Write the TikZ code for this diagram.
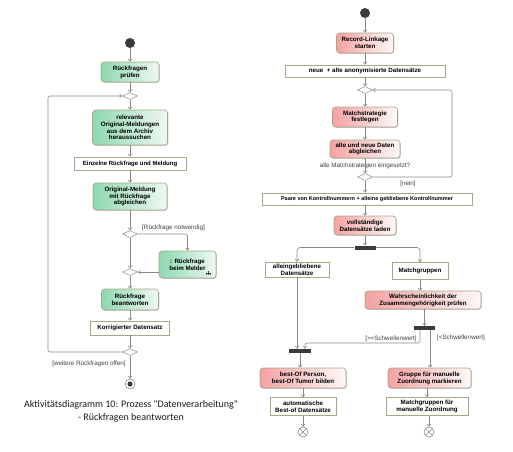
\documentclass[tikz,border=0pt]{standalone}
\usepackage{fontspec}
\setmainfont{Liberation Sans}
\newfontfamily\capfont{Carlito}
\usetikzlibrary{arrows.meta,shapes.geometric,shadows}
\definecolor{edgec}{HTML}{8A8A8A}
\definecolor{bordc}{HTML}{ABA688}
\definecolor{greenl}{HTML}{8ED8B0}
\definecolor{greenr}{HTML}{EEF9F3}
\definecolor{pinkl}{HTML}{F4A2A2}
\definecolor{pinkr}{HTML}{FFF8F8}
\definecolor{darkc}{HTML}{3A3A3A}
\begin{document}
\begin{tikzpicture}[x=1pt,y=-1pt,
 every node/.style={inner sep=0pt},
 shad/.style={drop shadow={shadow xshift=0.8pt,shadow yshift=-0.8pt,opacity=0.35,fill=black!60}},
 txt/.style={font=\fontsize{6.2}{6.8}\selectfont\bfseries, align=center},
 actg/.style={txt, shad, draw=bordc, line width=0.6pt, rounded corners=3pt, left color=greenl, right color=greenr},
 actp/.style={txt, shad, draw=bordc, line width=0.6pt, rounded corners=3pt, left color=pinkl, right color=pinkr},
 objb/.style={txt, shad, draw=bordc, fill=white, line width=0.6pt},
 dia/.style={diamond, draw=edgec, fill=white, minimum width=15pt, minimum height=7pt, line width=0.5pt},
 forkbar/.style={fill=darkc, minimum width=21pt, minimum height=4pt},
 initn/.style={circle, fill=darkc, minimum size=10pt},
 finaln/.style={circle, draw=edgec, fill=white, line width=0.6pt, minimum size=10pt, path picture={\fill[darkc] (path picture bounding box.center) circle (2.6pt);}},
 flowfin/.style={circle, draw=edgec, fill=white, line width=0.6pt, minimum size=10pt, path picture={\draw[edgec, line width=0.6pt] (path picture bounding box.south west) -- (path picture bounding box.north east) (path picture bounding box.north west) -- (path picture bounding box.south east);}},
 flow/.style={draw=edgec, line width=0.6pt, -{Straight Barb[length=2.2pt,width=3.6pt]}},
 guard/.style={text=black!75, font=\fontsize{6.3}{7}\selectfont}
]
\useasboundingbox (0,0) rectangle (513,451);

% ---------------- left diagram ----------------
\node[initn] (i1) at (130,43) {};
\node[actg, minimum width=58pt, minimum height=20pt] (a1) at (130,72) {Rückfragen\\prüfen};
\node[dia] (m1) at (130,96) {};
\node[actg, minimum width=75pt, minimum height=35pt] (a2) at (130,127.5) {relevante\\Original-Meldungen\\aus dem Archiv\\heraussuchen};
\node[objb, minimum width=112pt, minimum height=13pt, font=\fontsize{6}{6.8}\selectfont\bfseries] (o1) at (130,163.5) {Einzelne Rückfrage und Meldung};
\node[actg, minimum width=74pt, minimum height=27pt] (a3) at (130,196.5) {Original-Meldung\\mit Rückfrage\\abgleichen};
\node[dia] (d1) at (130,234) {};
\node[actg, minimum width=57pt, minimum height=27pt] (a4) at (187.5,264.5) {: Rückfrage\\beim Melder};
\begin{scope}[shift={(a4.south east)}, edgec!50!black, line width=0.5pt]
 \draw (-8,-7.5) -- (-8,-5.3);
 \draw (-10.3,-3) -- (-10.3,-5.3) -- (-5.7,-5.3) -- (-5.7,-3);
 \draw (-8,-5.3) -- (-8,-3);
\end{scope}
\node[dia] (m2) at (130,272) {};
\node[actg, minimum width=57pt, minimum height=21pt] (a5) at (130,299.5) {Rückfrage\\beantworten};
\node[objb, minimum width=79pt, minimum height=14pt] (o2) at (130,328) {Korrigierter Datensatz};
\node[dia] (d2) at (130,352) {};
\node[finaln] (f1) at (130,384) {};
\coordinate (lx) at (48,220);

\node[guard, anchor=west] (g1) at (142,228) {[Rückfrage notwendig]};
\node[guard] (g2) at (89,364) {[weitere Rückfragen offen]};

\draw[flow] (i1) -- (a1);
\draw[flow] (a1) -- (m1);
\draw[flow] (m1) -- (a2);
\draw[flow] (a2) -- (o1);
\draw[flow] (o1) -- (a3);
\draw[flow] (a3) -- (d1);
\draw[flow, rounded corners=2pt] (d1.east) -| (a4.north);
\draw[flow] (d1) -- (m2);
\draw[flow] (a4.west |- m2) -- (m2.east);
\draw[flow] (m2) -- (a5);
\draw[flow] (a5) -- (o2);
\draw[flow] (o2) -- (d2);
\draw[flow] (d2) -- (f1);
\draw[flow, rounded corners=2pt] (d2.west) -| (lx) |- (m1.west);

\node[font=\capfont\fontsize{10}{13}\selectfont, text=black!90, align=center] (cap) at (131,411.5)
 {Aktivitätsdiagramm 10: Prozess "Datenverarbeitung"\\- Rückfragen beantworten};

% ---------------- right diagram ----------------
\node[initn] (i2) at (365,13) {};
\node[actp, minimum width=57pt, minimum height=20pt] (r1) at (365,43) {Record-Linkage\\starten};
\node[objb, minimum width=160pt, minimum height=12pt] (o3) at (365,71) {neue~~+ alte anonymisierte Datensätze};
\node[dia] (m3) at (365,90) {};
\node[actp, minimum width=65pt, minimum height=20pt] (r2) at (365,117) {Matchstrategie\\festlegen};
\node[actp, minimum width=70pt, minimum height=18pt] (r3) at (365,149) {alte und neue Daten\\abgleichen};
\node[guard] (g3) at (365,166) {alle Matchstrategien eingesetzt?};
\node[dia] (d3) at (365,177) {};
\node[guard] (g4) at (408,184) {[nein]};
\node[objb, minimum width=210pt, minimum height=12pt, font=\fontsize{5.5}{6.5}\selectfont\bfseries] (o4) at (367,199) {Paare von Kontrollnummern + alleine gebliebene Kontrollnummer};
\node[actp, minimum width=62pt, minimum height=19pt] (r4) at (365,225.5) {vollständige\\Datensätze laden};
\node[forkbar] (fk1) at (365,247.5) {};
\node[objb, minimum width=64pt, minimum height=15pt] (o5) at (297,269.5) {alleingebliebene\\Datensätze};
\node[objb, minimum width=56pt, minimum height=17pt] (o6) at (420,271) {Matchgruppen};
\node[actp, minimum width=116pt, minimum height=18pt] (r5) at (423,300) {Wahrscheinlichkeit der\\Zusammengehörigkeit prüfen};
\node[forkbar] (fk2) at (424.5,328) {};
\node[guard] (g5) at (391,338.5) {[>=Schwellenwert]};
\node[guard] (g6) at (461,337.5) {[<Schwellenwert]};
\node[forkbar, minimum width=22pt] (jb) at (300,351) {};
\node[actp, minimum width=86pt, minimum height=20pt] (r6) at (303,378) {best-Of Person,\\best-Of Tumor bilden};
\node[actp, minimum width=83pt, minimum height=20pt] (r7) at (429.5,378) {Gruppe für manuelle\\Zuordnung markieren};
\node[objb, minimum width=66pt, minimum height=18pt] (o7) at (303,406.5) {automatische\\Best-of Datensätze};
\node[objb, minimum width=82pt, minimum height=18pt] (o8) at (427,406.5) {Matchgruppen für\\manuelle Zuordnung};
\node[flowfin] (ff1) at (303,432) {};
\node[flowfin] (ff2) at (429,432) {};
\coordinate (rx) at (452,130);
\coordinate (jmid) at (360,343);

\draw[flow] (i2) -- (r1);
\draw[flow] (r1) -- (o3);
\draw[flow] (o3) -- (m3);
\draw[flow] (m3) -- (r2);
\draw[flow] (r2) -- (r3);
\draw[flow] (r3.south) -- (d3.north);
\draw[flow, rounded corners=2pt] (d3.east) -| (rx) |- (m3.east);
\draw[flow] (d3.south) -- (d3.south |- o4.north);
\draw[flow] (o4.south -| r4) -- (r4.north);
\draw[flow] (r4) -- (fk1);
\draw[flow, rounded corners=3pt] (fk1.west) -| (o5.north);
\draw[flow, rounded corners=3pt] (fk1.east) -| (o6.north);
\draw[flow] (o6.south) -- (o6.south |- r5.north);
\draw[flow] (r5.south -| fk2) -- (fk2.north);
\draw[flow] (o5.south) -- (o5.south |- jb.north);
\draw[flow, rounded corners=2pt] ([xshift=-4.5pt]fk2.south) |- (jmid) -| ([xshift=5pt]jb.north);
\draw[flow] ([xshift=5.5pt]fk2.south) -- ([xshift=5.5pt]fk2.south |- r7.north);
\draw[flow] (jb.south) -- (jb.south |- r6.north);
\draw[flow] (r6) -- (o7);
\draw[flow] (o7) -- (ff1);
\draw[flow] (r7.south -| o8) -- (o8.north);
\draw[flow] (o8.south -| ff2) -- (ff2.north);
\end{tikzpicture}
\end{document}
